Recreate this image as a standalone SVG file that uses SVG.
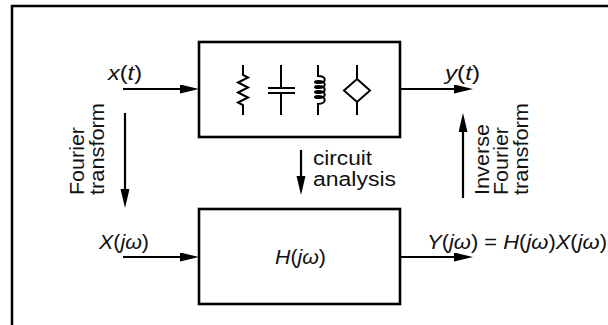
<svg xmlns="http://www.w3.org/2000/svg" width="608" height="325" viewBox="0 0 608 325">
<style>
.ln{stroke:#000;stroke-width:2.2;fill:none}
.box{stroke:#000;stroke-width:2.6;fill:#fff}
.sym{stroke:#000;stroke-width:2;fill:none;stroke-linejoin:miter}
.t{font-family:"Liberation Sans",Arial,sans-serif;font-size:20px;fill:#111}
.m{font-family:"Liberation Sans",Arial,sans-serif;font-size:20px;fill:#111}
.i{font-style:italic}
</style>
<defs>
<marker id="ah" markerUnits="userSpaceOnUse" markerWidth="20" markerHeight="10" refX="9" refY="4.5" orient="auto">
<path d="M0,0 L19,4.5 L0,9 Z" fill="#000"/>
</marker>
</defs>
<rect width="608" height="325" fill="#fff"/>
<path id="frame" d="M12,325 V6 H608" stroke="#000" stroke-width="2.5" fill="none"/>

<g id="circuit">
<rect class="box" x="199" y="42" width="201" height="95"/>
<g id="resistor">
<path class="sym" d="M243,65 V75 L248,77.5 L238,82.5 L248,87.5 L238,92.5 L248,97.5 L238,102.5 L243,105 V115"/>
</g>
<g id="capacitor">
<path class="sym" d="M281,65 V88 M281,93 V115"/>
<path class="sym" stroke-width="2.4" d="M268,88 H295 M268,93 H295"/>
</g>
<g id="inductor">
<path class="sym" d="M318,65 V76 c9,0 9,7.5 0,7 c-4,0 -4,-2 0,-2 M318,81 c9,0 9,7.5 0,7 c-4,0 -4,-2 0,-2 M318,86 c9,0 9,7.5 0,7 c-4,0 -4,-2 0,-2 M318,91 c9,0 9,7.5 0,7 c-4,0 -4,-2 0,-2 M318,96 c9,0 9,8 0,8 V115"/>
</g>
<g id="source">
<path class="sym" d="M357,65 V79 M357,102 V115 M357,79 L370,90.5 L357,102 L344,90.5 Z"/>
</g>
</g>

<g id="transfer">
<rect class="box" x="199" y="209" width="201" height="95"/>
<text class="m" x="275" y="264" textLength="51" lengthAdjust="spacingAndGlyphs"><tspan class="i">H</tspan>(<tspan class="i">jω</tspan>)</text>
</g>

<g id="connectors">
<line class="ln" x1="123" y1="89" x2="189" y2="89" marker-end="url(#ah)"/>
<line class="ln" x1="123" y1="257" x2="189" y2="257" marker-end="url(#ah)"/>
<line class="ln" x1="400" y1="89" x2="463" y2="89" marker-end="url(#ah)"/>
<line class="ln" x1="400" y1="257" x2="463" y2="257" marker-end="url(#ah)"/>
<line class="ln" x1="125" y1="113" x2="125" y2="198" marker-end="url(#ah)"/>
<line class="ln" x1="301" y1="150" x2="301" y2="185" marker-end="url(#ah)"/>
<line class="ln" x1="463" y1="198" x2="463" y2="123" marker-end="url(#ah)"/>
</g>

<g id="labels">
<text class="m" x="108" y="80" textLength="34" lengthAdjust="spacingAndGlyphs"><tspan class="i">x</tspan>(<tspan class="i">t</tspan>)</text>
<text class="m" x="99" y="249" textLength="50" lengthAdjust="spacingAndGlyphs"><tspan class="i">X</tspan>(<tspan class="i">jω</tspan>)</text>
<text class="m" x="445" y="80" textLength="35" lengthAdjust="spacingAndGlyphs"><tspan class="i">y</tspan>(<tspan class="i">t</tspan>)</text>
<text class="m" x="427" y="249" textLength="180" lengthAdjust="spacingAndGlyphs"><tspan class="i">Y</tspan>(<tspan class="i">jω</tspan>) = <tspan class="i">H</tspan>(<tspan class="i">jω</tspan>)<tspan class="i">X</tspan>(<tspan class="i">jω</tspan>)</text>
<text class="t" x="313" y="165" textLength="59" lengthAdjust="spacingAndGlyphs">circuit</text>
<text class="t" x="313" y="186" textLength="83" lengthAdjust="spacingAndGlyphs">analysis</text>
<text class="t" transform="translate(84,195) rotate(-90)" textLength="68" lengthAdjust="spacingAndGlyphs">Fourier</text>
<text class="t" transform="translate(104,195) rotate(-90)" textLength="92" lengthAdjust="spacingAndGlyphs">transform</text>
<text class="t" transform="translate(489,195) rotate(-90)" textLength="71" lengthAdjust="spacingAndGlyphs">Inverse</text>
<text class="t" transform="translate(508,195) rotate(-90)" textLength="68" lengthAdjust="spacingAndGlyphs">Fourier</text>
<text class="t" transform="translate(528,195) rotate(-90)" textLength="92" lengthAdjust="spacingAndGlyphs">transform</text>
</g>
</svg>
